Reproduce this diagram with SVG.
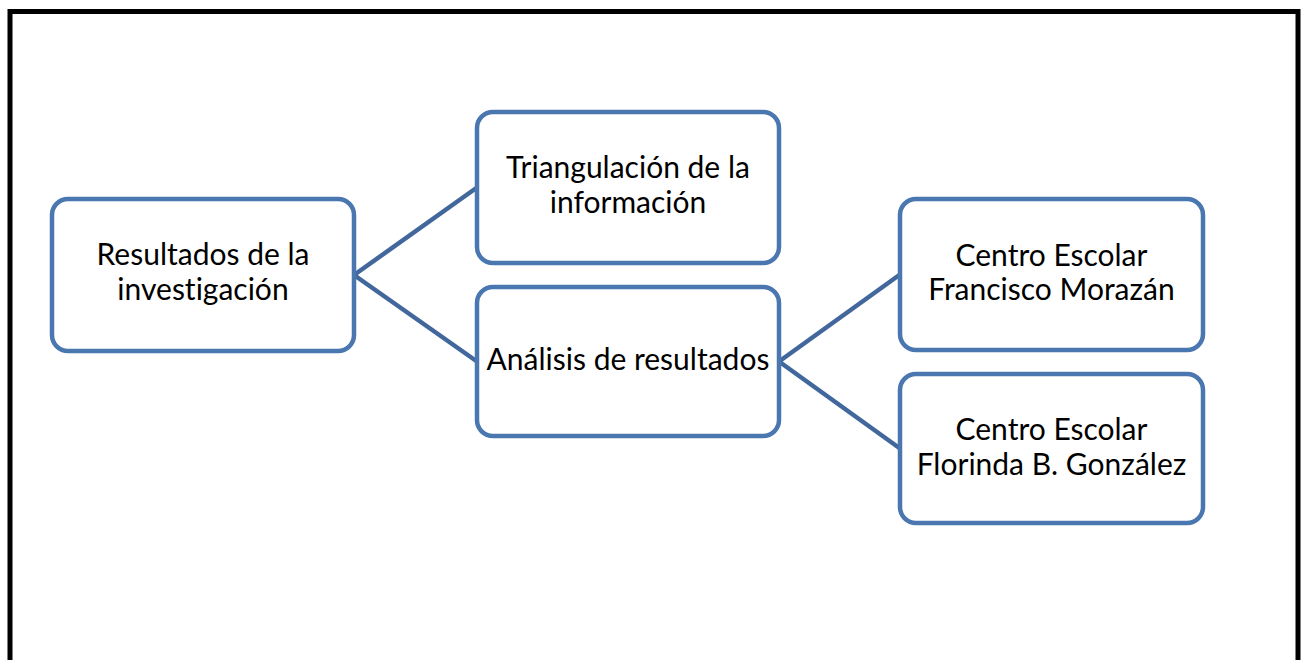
<svg xmlns="http://www.w3.org/2000/svg" width="1301" height="660" viewBox="0 0 1301 660">
<style>
.box{fill:#ffffff;stroke:#4a77b0;stroke-width:4.5}
.lbl{font-family:Lato,"Liberation Sans",Arial,sans-serif;font-size:30px;fill:#000000;text-anchor:middle;font-variant-ligatures:none;font-feature-settings:"liga" 0}
.conn{stroke:#41679c;stroke-width:4.5;fill:none}
</style>
<rect x="0" y="0" width="1301" height="660" fill="#ffffff"/>
<rect x="10" y="11.5" width="1288" height="700" fill="none" stroke="#000000" stroke-width="5"/>
<g id="connectors">
<path class="conn" d="M354,275 L477,187.5 M354,275 L477,361.5"/>
<path class="conn" d="M779,361.5 L900,274.5 M779,361.5 L900,448.5"/>
</g>
<g id="n1">
<rect class="box" x="52" y="199" width="302" height="152" rx="16"/>
<text class="lbl" x="203" y="265">Resultados de la</text>
<text class="lbl" x="203" y="300">investigación</text>
</g>
<g id="n2">
<rect class="box" x="477" y="112" width="302" height="151" rx="16"/>
<text class="lbl" x="628" y="178">Triangulación de la</text>
<text class="lbl" x="628" y="213">información</text>
</g>
<g id="n3">
<rect class="box" x="477" y="287" width="302" height="149" rx="16"/>
<text class="lbl" x="628" y="370">Análisis de resultados</text>
</g>
<g id="n4">
<rect class="box" x="900" y="199" width="303" height="151" rx="16"/>
<text class="lbl" x="1051.5" y="266">Centro Escolar</text>
<text class="lbl" x="1051.5" y="300">Francisco Morazán</text>
</g>
<g id="n5">
<rect class="box" x="900" y="374" width="303" height="149" rx="16"/>
<text class="lbl" x="1051.5" y="440">Centro Escolar</text>
<text class="lbl" x="1051.5" y="475">Florinda B. González</text>
</g>
</svg>
